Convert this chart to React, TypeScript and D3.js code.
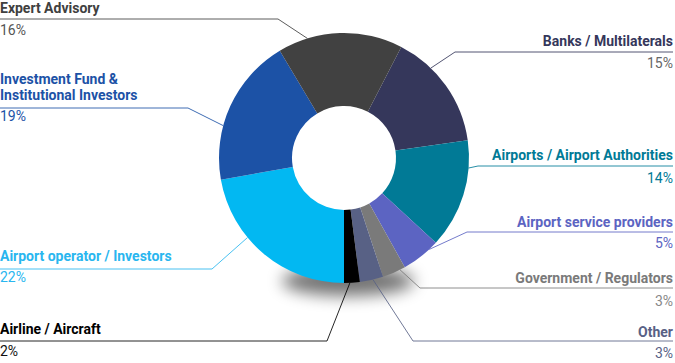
import React from 'react'
import * as d3 from 'd3'

// clockwise from the top-right
const categories = [
  'Banks / Multilaterals',
  'Airports / Airport Authorities',
  'Airport service providers',
  'Government / Regulators',
  'Other',
  'Airline / Aircraft',
  'Airport operator / Investors',
  'Investment Fund &\nInstitutional Investors',
  'Expert Advisory',
]
const shares = [15, 14, 5, 3, 3, 2, 22, 19, 16]
const percentLabels = shares.map((v) => `${v}%`)

const sliceColors = ['#35375b', '#017a96', '#5c64c2', '#7a7a7a', '#586185', '#000000', '#02b8f2', '#1c52a6', '#414141']
const textColors = ['#35375b', '#017a96', '#5c64c2', '#7a7a7a', '#586185', '#000000', '#29b6ef', '#1c52a6', '#404040']
const pctColors = ['#666666', '#017a96', '#5c64c2', '#888888', '#586185', '#111111', '#29b6ef', '#1c52a6', '#555555']

// label placement: side, baseline of first name line, leader y, knee x, angle (deg) where leader meets donut, pct baseline
const layout = [
  { side: 'right', y: 46, lineY: 52, kneeX: 455, angle: 44, pctY: 68 },
  { side: 'right', y: 160, lineY: 166, kneeX: 478, angle: 94.6, pctY: 183 },
  { side: 'right', y: 227, lineY: 232, kneeX: 467, angle: 137, pctY: 248 },
  { side: 'right', y: 283, lineY: 288, kneeX: 420, angle: 153.4, pctY: 306 },
  { side: 'right', y: 337, lineY: 341, kneeX: 413, angle: 166.6, pctY: 358 },
  { side: 'left', y: 334, lineY: 341, kneeX: 327, angle: 177.3, pctY: 356 },
  { side: 'left', y: 261, lineY: 269, kneeX: 212, angle: 230.5, pctY: 282 },
  { side: 'left', y: 84, lineY: 108, kneeX: 188, angle: 285, pctY: 121 },
  { side: 'left', y: 13, lineY: 19, kneeX: 278, angle: 343, pctY: 35 },
]

const width = 675
const height = 363
const cx = 344
const cy = 158
const outerR = 125
const innerR = 52

export default function App() {
  const total = d3.sum(shares)
  const a0 = Math.PI - (2 * Math.PI * d3.sum(shares.slice(0, 6))) / total
  const pie = d3.pie<number>().sort(null).value((d) => d).startAngle(a0).endAngle(a0 + 2 * Math.PI)
  const arc = d3.arc<d3.PieArcDatum<number>>().innerRadius(innerR).outerRadius(outerR)
  const arcs = pie(shares)

  const font = "Roboto, 'Noto Sans', sans-serif"

  return (
    <div style={{ position: 'absolute', left: 0, top: 0 }}>
      <svg width={width} height={height} style={{ display: 'block' }}>
        <defs>
          <filter id="shadow" x="-50%" y="-100%" width="200%" height="300%">
            <feGaussianBlur stdDeviation="8" />
          </filter>
        </defs>
        <ellipse cx={cx + 4} cy={cy + outerR - 2} rx={66} ry={15} fill="#000" opacity={0.55} filter="url(#shadow)" />
        <g transform={`translate(${cx},${cy})`}>
          {arcs.map((a, i) => (
            <path key={i} d={arc(a) || ''} fill={sliceColors[i]} />
          ))}
        </g>
        {layout.map((l, i) => {
          const rad = (l.angle * Math.PI) / 180
          const px = cx + outerR * Math.sin(rad)
          const py = cy - outerR * Math.cos(rad)
          const endX = l.side === 'left' ? 0 : 673
          const tx = l.side === 'left' ? 0 : 673
          const anchor = l.side === 'left' ? 'start' : 'end'
          const lines = categories[i].split('\n')
          return (
            <g key={i} fontFamily={font}>
              <polyline
                points={`${px},${py} ${l.kneeX},${l.lineY} ${endX},${l.lineY}`}
                fill="none"
                stroke={textColors[i]}
                strokeWidth={1}
                opacity={0.85}
              />
              {lines.map((t, j) => (
                <text key={j} x={tx} y={l.y + j * 16} textAnchor={anchor} fontSize={14} fontWeight="bold" fill={textColors[i]}>
                  {t}
                </text>
              ))}
              <text x={tx} y={l.pctY} textAnchor={anchor} fontSize={14} fill={pctColors[i]}>
                {percentLabels[i]}
              </text>
            </g>
          )
        })}
      </svg>
    </div>
  )
}
